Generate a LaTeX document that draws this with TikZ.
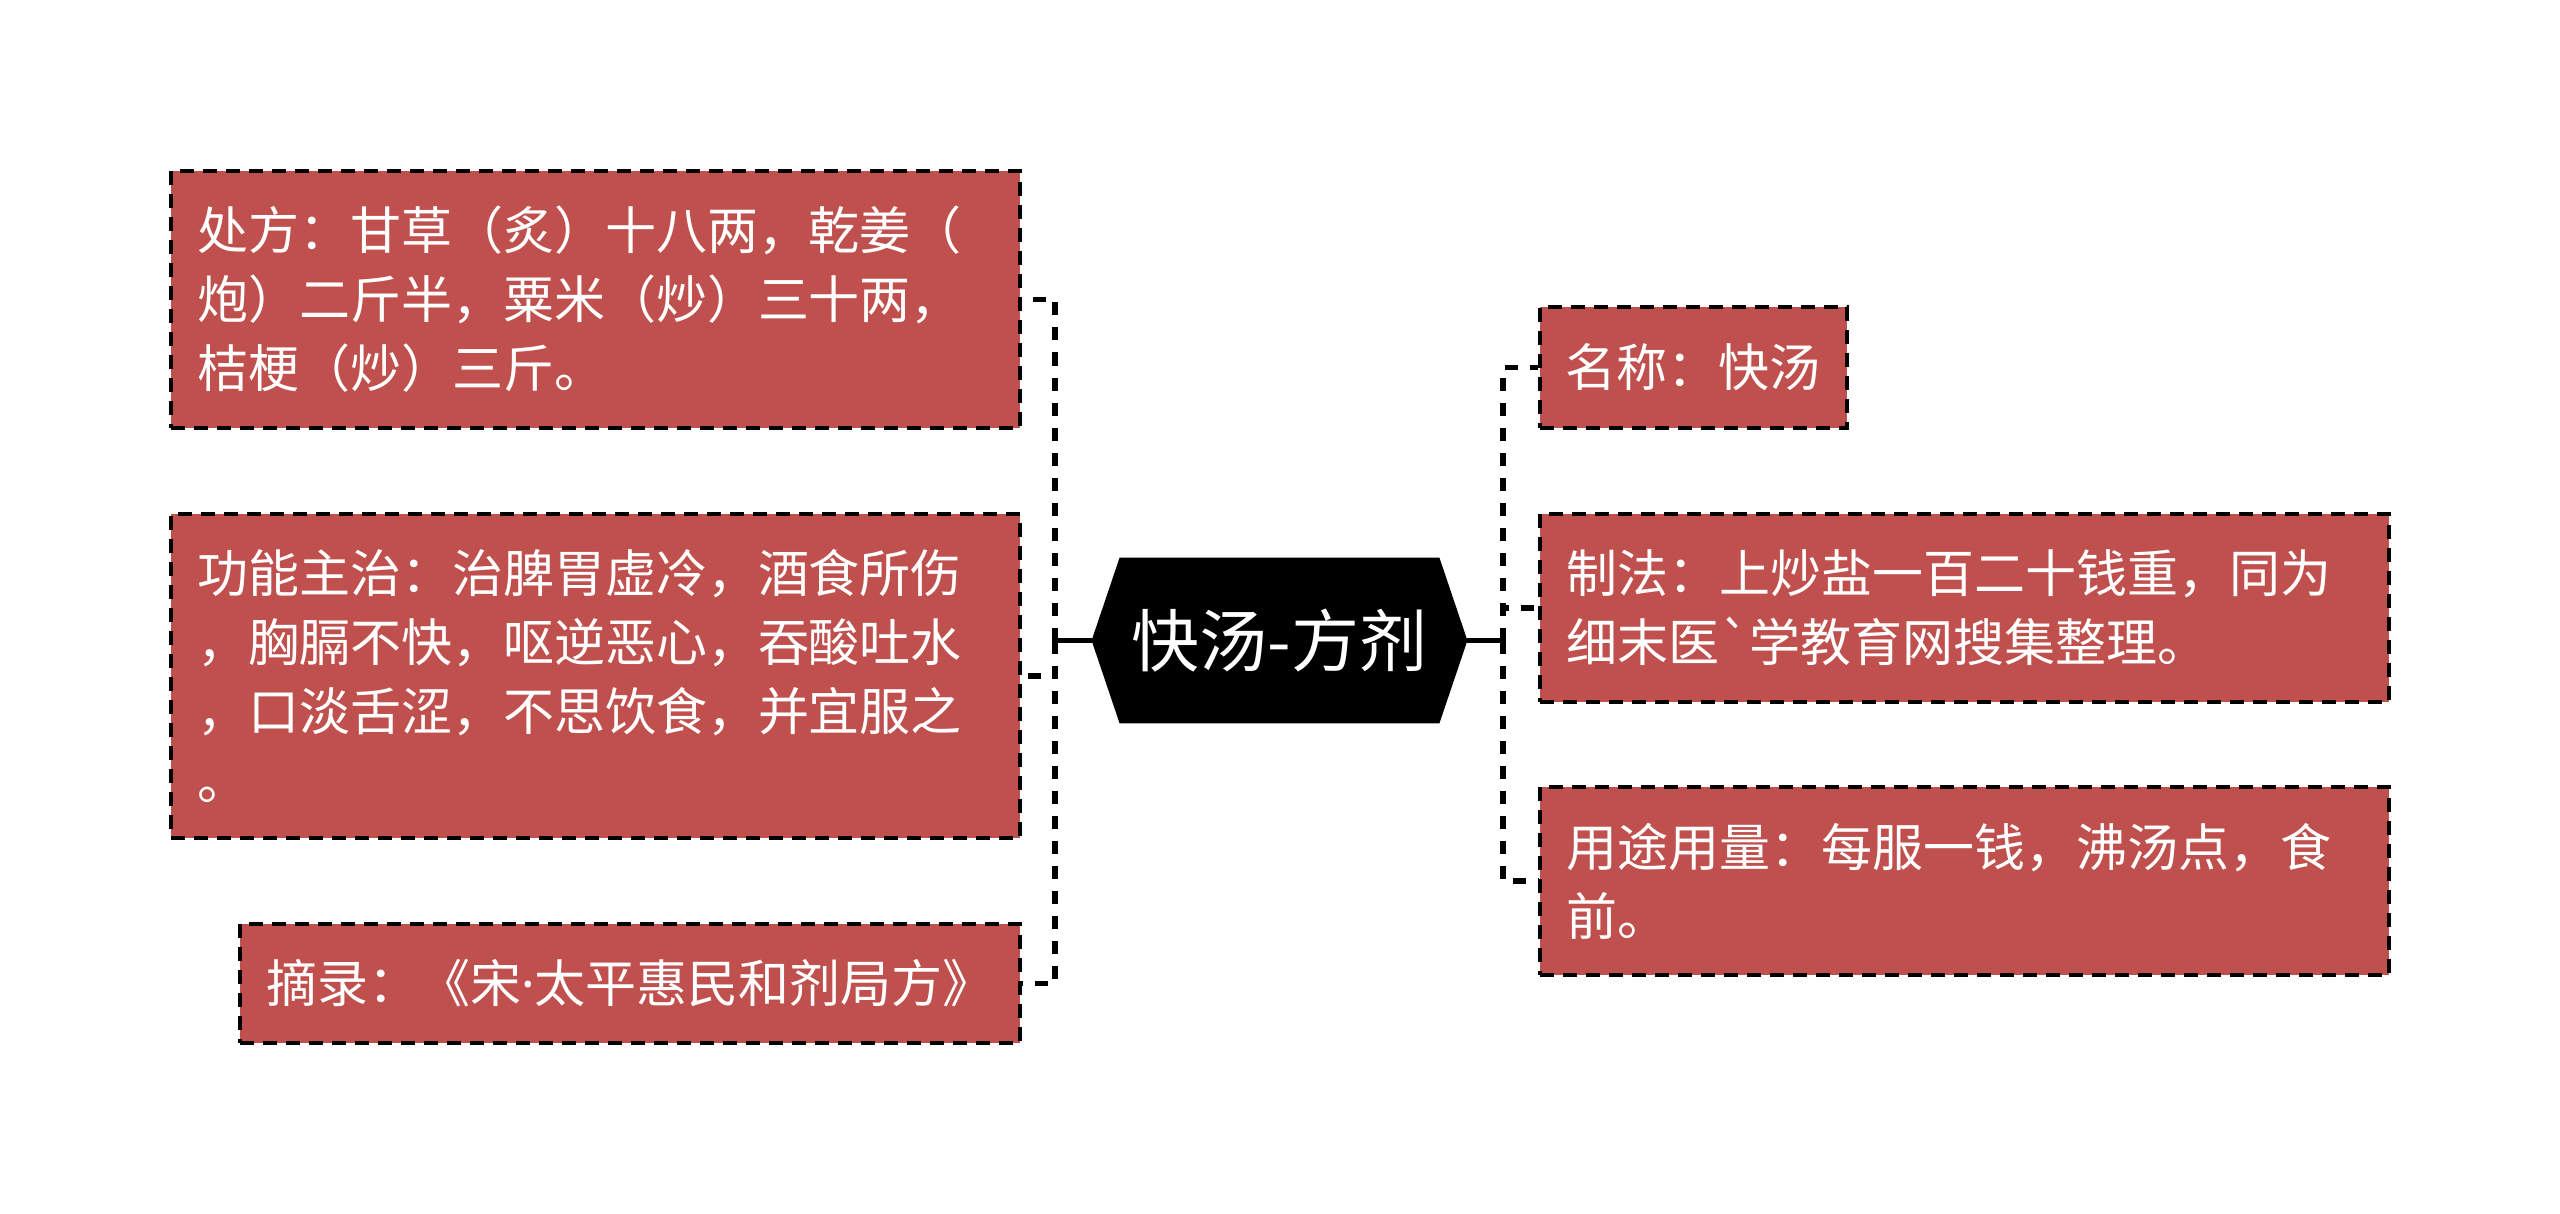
\documentclass[tikz,border=0pt]{standalone}
\usepackage{fontspec}
\setmainfont{Noto Sans CJK SC}
\usetikzlibrary{calc}
\definecolor{boxred}{RGB}{192,80,77}
\pgfdeclarelayer{background}
\pgfsetlayers{background,main}
\font\latfnt="Noto Sans" at 25.5pt
\font\gravefnt="Noto Sans CJK SC" at 25.5pt
\begin{document}
\begin{tikzpicture}[x=0.5pt,y=-0.5pt,
  leaf/.style={draw=black, fill=boxred, line width=1.8pt, dash pattern=on 7pt off 4.5pt,
    text=white, align=left, inner xsep=13pt, inner ysep=0pt,
    font=\fontsize{25.5pt}{34.5pt}\selectfont, anchor=center},
  hubnode/.style={minimum width=187.5pt, minimum height=82.5pt, inner sep=0pt,
    text=white, font=\fontsize{34pt}{40pt}\selectfont},
  link/.style={line width=2.6pt, dash pattern=on 6.5pt off 6pt},
  stem/.style={line width=2.6pt}]
\useasboundingbox (0,0) rectangle (2560,1214);

% central node
\node[hubnode] (hub) at (1279.5,640.5) {快汤-方剂};
\begin{pgfonlayer}{background}
\fill[white] (0,0) rectangle (2560,1214);
\fill[black] (hub.west) -- ([xshift=14pt]hub.north west) -- ([xshift=-14pt]hub.north east)
  -- (hub.east) -- ([xshift=-14pt]hub.south east) -- ([xshift=14pt]hub.south west) -- cycle;
\end{pgfonlayer}

% left leaves
\node[leaf, text width=398.5pt, minimum height=128.5pt] (b1) at (595.5,299.5)
  {处方：甘草（炙）十八两，乾姜（\\炮）二斤半，粟米（炒）三十两，\\桔梗（炒）三斤。};
\node[leaf, text width=398.5pt, minimum height=162pt] (b2) at (595.5,676)
  {功能主治：治脾胃虚冷，酒食所伤\\，胸膈不快，呕逆恶心，吞酸吐水\\，口淡舌涩，不思饮食，并宜服之\\。};
\node[leaf, text width=364pt, minimum height=59.5pt] (b3) at (630,983.5)
  {摘录：《宋{\latfnt ·}太平惠民和剂局方》};

% right leaves
\node[leaf, text width=128pt, inner xsep=12.75pt, minimum height=60.5pt] (r1) at (1693.5,367.5)
  {名称：快汤};
\node[leaf, text width=398.5pt, minimum height=94pt] (r2) at (1964.5,608)
  {制法：上炒盐一百二十钱重，同为\\细末医{\gravefnt\char"60}学教育网搜集整理。};
\node[leaf, text width=398.5pt, minimum height=94pt] (r3) at (1964.5,881)
  {用途用量：每服一钱，沸汤点，食\\前。};

% connectors
\coordinate (lb) at (1055,640.5);
\coordinate (rb) at (1503,640.5);
\draw[stem] (hub.west) -- (lb);
\draw[stem] (hub.east) -- (rb);
\draw[link] (lb) |- (b1.east);
\draw[link] (lb) |- (b2.east);
\draw[link] (lb) |- (b3.east);
\draw[link] (rb) |- (r1.west);
\draw[link] (rb) |- (r2.west);
\draw[link] (rb) |- (r3.west);
\end{tikzpicture}
\end{document}
